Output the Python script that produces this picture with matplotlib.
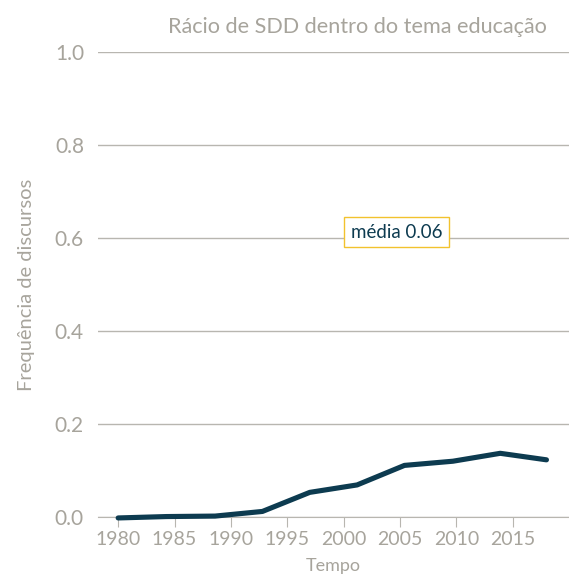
import matplotlib
matplotlib.use("Agg")
import matplotlib.pyplot as plt

# values
anos = [1980, 1984.3, 1988.6, 1992.8, 1997.0, 2001.2, 2005.4, 2009.7, 2013.9, 2018.0]
racio = [-0.002, 0.001, 0.002, 0.012, 0.053, 0.069, 0.111, 0.120, 0.137, 0.123]
media = 0.06
xticks = [1980, 1985, 1990, 1995, 2000, 2005, 2010, 2015]
yticks = [0.0, 0.2, 0.4, 0.6, 0.8, 1.0]

cinza = "#a7a49c"
azul = "#0d3b50"

plt.rcParams['font.family'] = ['Lato', 'DejaVu Sans']

fig = plt.figure(figsize=(5.69, 5.76), dpi=100)
ax = fig.add_axes([0.172, 0.1024, 0.828, 0.8073])

ax.plot(anos, racio, color=azul, lw=3.7, solid_capstyle='round', clip_on=False, zorder=3)

ax.set_xlim(1978.2, 2020.0)
ax.set_ylim(0, 1.0)
ax.set_xticks(xticks)
ax.set_yticks(yticks)
ax.set_yticklabels([f"{v:.1f}" for v in yticks])

ax.grid(axis='y', color='#b8b6b0', lw=1)
ax.set_axisbelow(True)
for s in ['left', 'right', 'top']:
    ax.spines[s].set_visible(False)
ax.spines['bottom'].set_color('#b8b6b0')
ax.tick_params(axis='y', length=0, pad=10, labelsize=15, labelcolor=cinza)
ax.tick_params(axis='x', length=7, color='#b8b6b0', labelsize=14, labelcolor=cinza, pad=3)

ax.set_xlabel("Tempo", color=cinza, fontsize=13, labelpad=7)
ax.set_ylabel("Frequência de discursos", color=cinza, fontsize=14.5, labelpad=14)
ax.set_title("Rácio de SDD dentro do tema educação", color=cinza, fontsize=15.6, pad=14, x=0.55)

ax.text(2004.7, 0.612, f"média {media:.2f}", color=azul, fontsize=13.5, ha='center', va='center',
        bbox=dict(boxstyle='square,pad=0.35', fc='white', ec='#f2c22e', lw=1))

fig.savefig("out.png", dpi=100)
